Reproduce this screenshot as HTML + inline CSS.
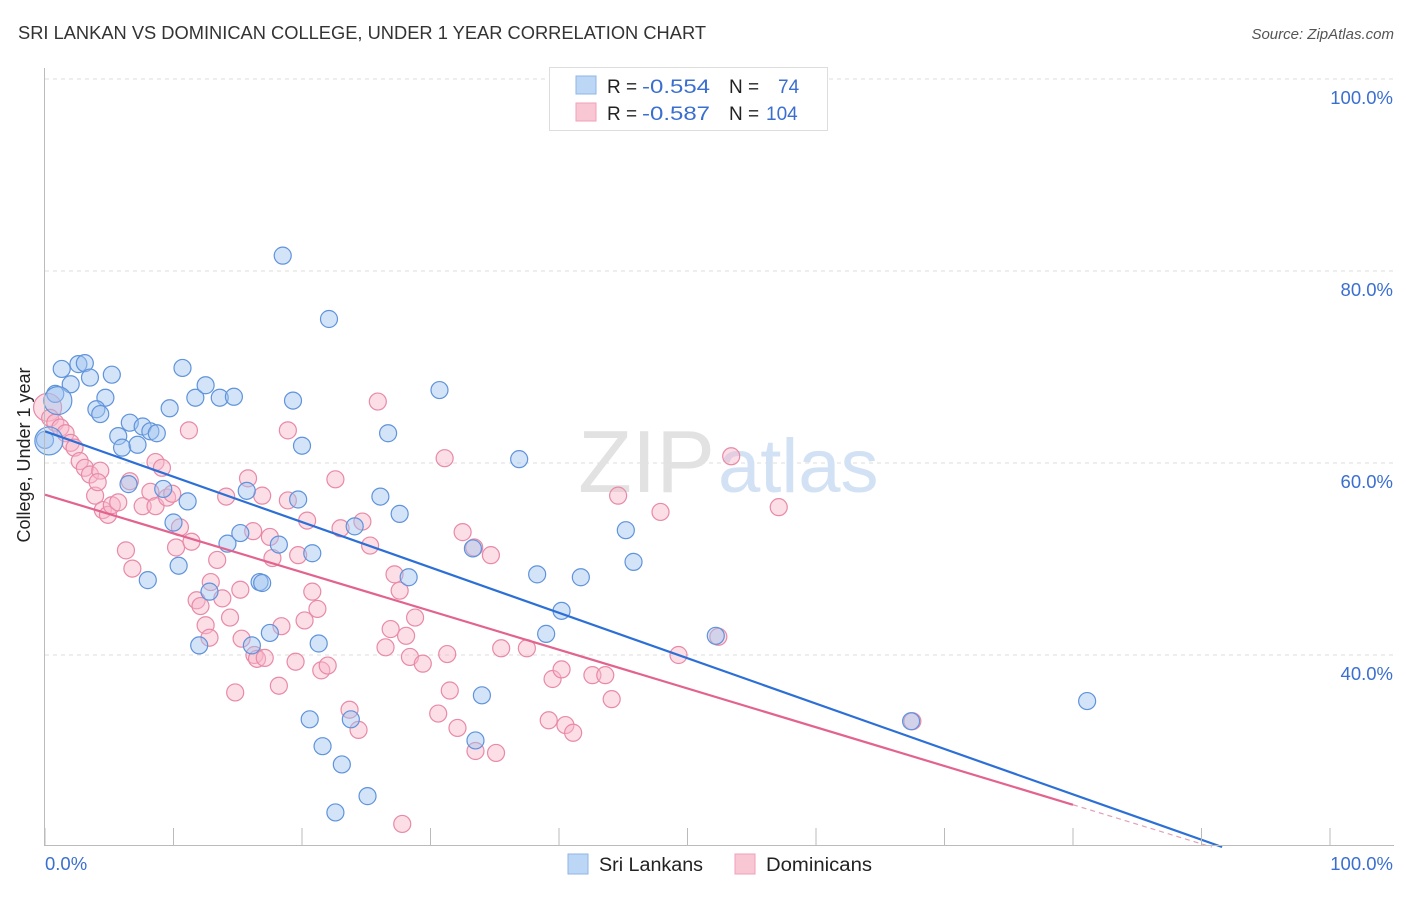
<!DOCTYPE html>
<html><head><meta charset="utf-8">
<style>
body{margin:0;background:#fff;width:1406px;height:892px;overflow:hidden;font-family:"Liberation Sans",sans-serif;}
svg text{font-family:"Liberation Sans",sans-serif;}
</style></head>
<body>
<svg id="chart" width="1406" height="892" xmlns="http://www.w3.org/2000/svg">
<text x="18" y="39" font-size="18" fill="#333" textLength="688" lengthAdjust="spacingAndGlyphs">SRI LANKAN VS DOMINICAN COLLEGE, UNDER 1 YEAR CORRELATION CHART</text>
<text x="1394" y="39" font-size="15" fill="#555" font-style="italic" text-anchor="end">Source: ZipAtlas.com</text>
<g id="grid"></g>
<text x="715" y="492" font-size="88" fill="#e2e2e2" font-family="Liberation Serif" text-anchor="end">ZIP</text>
<text x="718" y="492" font-size="76" fill="#d2e2f4">atlas</text>
<g id="pts"></g>
<g id="lines"></g>
<g id="axes"></g>
<text x="30" y="455" font-size="18" fill="#222" text-anchor="middle" transform="rotate(-90 30 455)">College, Under 1 year</text>
<g>
<rect x="549.5" y="67.5" width="278" height="63" fill="#fff" stroke="#ddd"/>
<rect x="576" y="76" width="20" height="18" fill="#bcd6f5" stroke="#8fb6e8"/>
<rect x="576" y="103" width="20" height="18" fill="#f9c6d4" stroke="#eea3b9"/>
<text x="607" y="93" font-size="19" fill="#222">R = <tspan fill="#3a6fd0" x="642" textLength="68" lengthAdjust="spacingAndGlyphs">-0.554</tspan></text>
<text x="729" y="93" font-size="19" fill="#222">N = <tspan fill="#3a6fd0" x="778">74</tspan></text>
<text x="607" y="120" font-size="19" fill="#222">R = <tspan fill="#3a6fd0" x="642" textLength="68" lengthAdjust="spacingAndGlyphs">-0.587</tspan></text>
<text x="729" y="120" font-size="19" fill="#222">N = <tspan fill="#3a6fd0" x="766">104</tspan></text>
</g>
<g>
<rect x="568" y="854" width="20" height="20" fill="#bcd6f5" stroke="#8fb6e8"/>
<text x="599" y="871" font-size="19" fill="#222" textLength="104" lengthAdjust="spacingAndGlyphs">Sri Lankans</text>
<rect x="735" y="854" width="20" height="20" fill="#f9c6d4" stroke="#eea3b9"/>
<text x="766" y="871" font-size="19" fill="#222" textLength="106" lengthAdjust="spacingAndGlyphs">Dominicans</text>
</g>
</svg>
<script>
const NS="http://www.w3.org/2000/svg";
const yTicks=[40,60,80,100];
const xTickVals=[0,10,20,30,40,50,60,70,80,90,100];
const blueX=[18.5,22.1,0,0.8,1.3,2,2.6,3.1,3.5,4.7,5.2,4,4.3,6.6,5.7,6,7.6,8.2,8.7,7.2,9.7,10.7,11.7,12.5,13.6,14.7,6.5,9.2,11.1,10,10.4,8,12,12.8,14.2,15.2,15.7,16.7,16.9,18.2,17.5,16.1,19.3,20,19.7,20.8,21.3,20.6,21.6,23.1,22.6,25.1,23.8,24.1,26.1,26.7,27.6,28.3,30.7,33.3,34,33.5,36.9,38.3,39,40.2,41.7,45.2,45.8,52.2,67.4,81.1,0.3,1];
const blueY=[81.6,75,62.4,67.2,69.8,68.2,70.3,70.4,68.9,66.8,69.2,65.6,65.1,64.2,62.8,61.6,63.8,63.3,63.1,61.9,65.7,69.9,66.8,68.1,66.8,66.9,57.8,57.3,56,53.8,49.3,47.8,41,46.6,51.6,52.7,57.1,47.6,47.5,51.5,42.3,41,66.5,61.8,56.2,50.6,41.2,33.3,30.5,28.6,23.6,25.3,33.3,53.4,56.5,63.1,54.7,48.1,67.6,51.1,35.8,31.1,60.4,48.4,42.2,44.6,48.1,53,49.7,42,33.1,35.2,62.3,66.5];
const pinkX=[0.2,0.4,0.8,1.2,1.6,2,2.3,2.7,3.1,3.5,3.9,4.3,4.1,4.5,4.9,5.2,5.7,6.3,6.8,6.6,7.6,8.2,8.6,8.6,9.1,9.5,9.9,10.2,10.5,11.2,11.4,11.8,12.1,12.5,12.8,12.9,13.4,13.8,14.1,14.4,14.8,15.2,15.3,15.8,16.2,16.3,16.5,16.9,17.1,17.5,17.7,18.2,18.4,18.9,18.9,19.5,19.7,20.2,20.4,20.8,21.2,21.5,22,22.6,23,23.7,24.4,24.7,25.3,25.9,26.5,26.9,27.2,27.6,28.1,28.4,28.8,29.4,27.8,30.6,31.1,31.3,31.5,32.1,32.5,33.4,33.5,34.7,35.1,35.5,37.5,39.2,39.5,40.2,40.5,41.1,42.6,43.6,44.1,44.6,47.9,49.3,52.4,53.4,57.1,67.5];
const pinkY=[65.8,64.7,64.2,63.7,63.1,62.1,61.6,60.2,59.5,58.8,56.6,59.2,58,55.1,54.6,55.6,55.9,50.9,49,58.1,55.5,57,55.5,60.1,59.5,56.4,56.8,51.2,53.3,63.4,51.8,45.7,45.1,43.1,41.8,47.6,49.9,45.9,56.5,43.9,36.1,46.8,41.7,58.4,52.9,40,39.6,56.6,39.7,52.3,50.1,36.8,43,56.1,63.4,39.3,50.4,43.6,54,46.6,44.8,38.4,38.9,58.3,53.2,34.3,32.2,53.9,51.4,66.4,40.8,42.7,48.4,46.7,42,39.8,43.9,39.1,22.4,33.9,60.5,40.1,36.3,32.4,52.8,51.2,30,50.4,29.8,40.7,40.7,33.2,37.5,38.5,32.7,31.9,37.9,37.9,35.4,56.6,54.9,40,41.9,60.7,55.4,33.1,38.5,34.5,33.8];
const blueLine=[[0,63.3],[91.6,20]];
const pinkLine=[[0,56.7],[80,24.4]];
const pinkDash=[[80,24.4],[90.8,20]];
const X=v=>45+v*12.85, Y=v=>1039-v*9.6;
const grid=document.getElementById('grid'),axes=document.getElementById('axes'),pts=document.getElementById('pts'),lines=document.getElementById('lines');
function mk(tag,a,p){const e=document.createElementNS(NS,tag);for(const k in a)e.setAttribute(k,a[k]);p.appendChild(e);return e;}
yTicks.forEach(t=>{
 const l=mk('line',{x1:45,x2:1394,y1:Y(t),y2:Y(t),stroke:'#ddd','stroke-dasharray':'4,4'},grid);
 
 
 const tx=mk('text',{x:1393,y:Y(t)+25,'font-size':18.5,fill:'#3a6fd0','text-anchor':'end'},axes);
 tx.textContent=t.toFixed(1)+'%';
 
 
});
mk('line',{x1:44.5,x2:44.5,y1:68,y2:845,stroke:'#bbb'},axes);
mk('line',{x1:44,x2:1394,y1:845.5,y2:845.5,stroke:'#bbb'},axes);
xTickVals.forEach(t=>{const l=mk('line',{x1:X(t),x2:X(t),y1:828,y2:845,stroke:'#bbb'},axes);
 
 });
let t0=mk('text',{x:45,y:870,'font-size':18.5,fill:'#3a6fd0'},axes);t0.textContent='0.0%';


let t1=mk('text',{x:1393,y:870,'font-size':18.5,fill:'#3a6fd0','text-anchor':'end'},axes);t1.textContent='100.0%';


function dots(xs,ys,fill,stroke,name){xs.forEach((x,i)=>{
 const r=(i>=xs.length-2&&name==='sri-lankan')||(i===0&&name==='dominican')?14:8.5;
 const c=mk('circle',{cx:X(x),cy:Y(ys[i]),r:r,fill:fill,stroke:stroke,'stroke-width':1.2},pts);
 
 });}
dots(pinkX,pinkY,'rgba(249,182,202,0.45)','#e88aa7','dominican');
dots(blueX,blueY,'rgba(160,196,240,0.45)','#5f93db','sri-lankan');
const bl=mk('line',{x1:X(blueLine[0][0]),y1:Y(blueLine[0][1]),x2:X(blueLine[1][0]),y2:Y(blueLine[1][1]),stroke:'#2c6fd6','stroke-width':2.2},lines);


const pl=mk('line',{x1:X(pinkLine[0][0]),y1:Y(pinkLine[0][1]),x2:X(pinkLine[1][0]),y2:Y(pinkLine[1][1]),stroke:'#e2638e','stroke-width':2.2},lines);


const pd=mk('line',{x1:X(pinkDash[0][0]),y1:Y(pinkDash[0][1]),x2:X(pinkDash[1][0]),y2:Y(pinkDash[1][1]),stroke:'#e2a0b6','stroke-width':1.2,'stroke-dasharray':'5,4'},lines);


</script>
</body></html>
